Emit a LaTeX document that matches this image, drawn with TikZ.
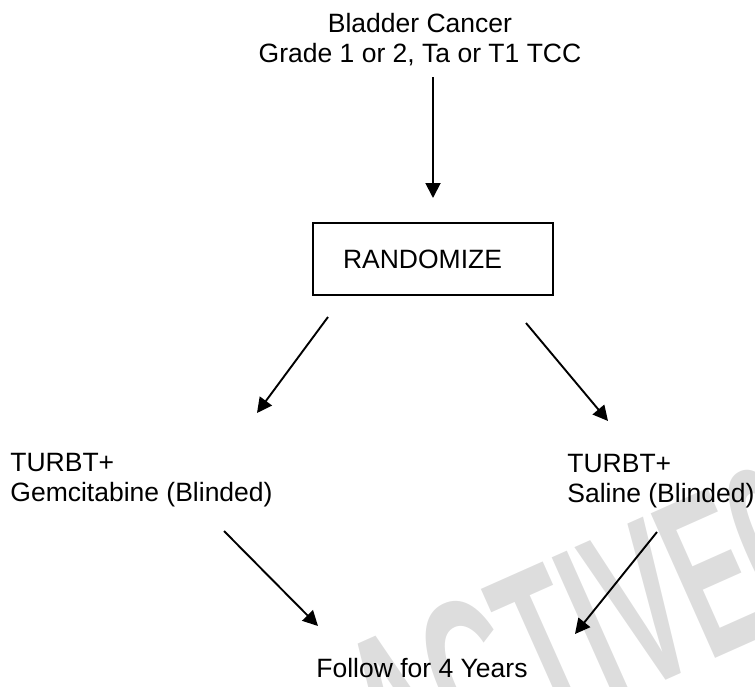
\documentclass[tikz,border=0pt]{standalone}
\usepackage{fontspec}
\setmainfont{Liberation Sans}
\usetikzlibrary{arrows.meta}
\definecolor{wmgray}{RGB}{221,221,221}
\begin{document}
\begin{tikzpicture}[x=0.5pt,y=-0.5pt,
  lbl/.style={inner sep=0pt, font=\fontsize{13.25}{14.75}\selectfont},
  arr/.style={-{Triangle[length=7.5pt,width=7.5pt]}, line width=0.95pt},
  boxnode/.style={draw, line width=0.6pt, inner ysep=0pt, inner xsep=15pt,
    minimum height=36pt, text width=90pt, align=left,
    font=\fontsize{13.25}{14.75}\selectfont},
  wm/.style={inner sep=0pt, text=wmgray, font=\bfseries\fontsize{115}{120}\selectfont}]
\useasboundingbox (0,0) rectangle (755,686);
\begin{scope}
  \clip (0,0) rectangle (755,686);
  \node[wm, rotate=24, xscale=0.5, anchor=base west] (wmk) at (393,802) {ACTIVE\hspace{-0.3em} 0};
\end{scope}
% nodes
\node[lbl, align=center, anchor=north] (title) at (420,13) {Bladder Cancer\\Grade 1 or 2, Ta or T1 TCC};
\node[boxnode] (rand) at (433,259) {RANDOMIZE};
\node[lbl, align=left, anchor=north west] (left) at (10,453) {TURBT+\\Gemcitabine (Blinded)};
\node[lbl, align=left, anchor=north west] (right) at (567,454) {TURBT+\\Saline (Blinded)};
\node[lbl, anchor=north west] (follow) at (316,658) {Follow for 4 Years};
% connector end points
\coordinate (a1) at (433,77);
\coordinate (a2) at (433,198);
\coordinate (b1) at (328,317);
\coordinate (b2) at (257,413);
\coordinate (c1) at (526,323);
\coordinate (c2) at (608,421);
\coordinate (d1) at (224,531);
\coordinate (d2) at (318,626);
\coordinate (e1) at (657,532);
\coordinate (e2) at (575,634);
\draw[arr] (a1) -- (a2);
\draw[arr] (b1) -- (b2);
\draw[arr] (c1) -- (c2);
\draw[arr] (d1) -- (d2);
\draw[arr] (e1) -- (e2);
\end{tikzpicture}
\end{document}
